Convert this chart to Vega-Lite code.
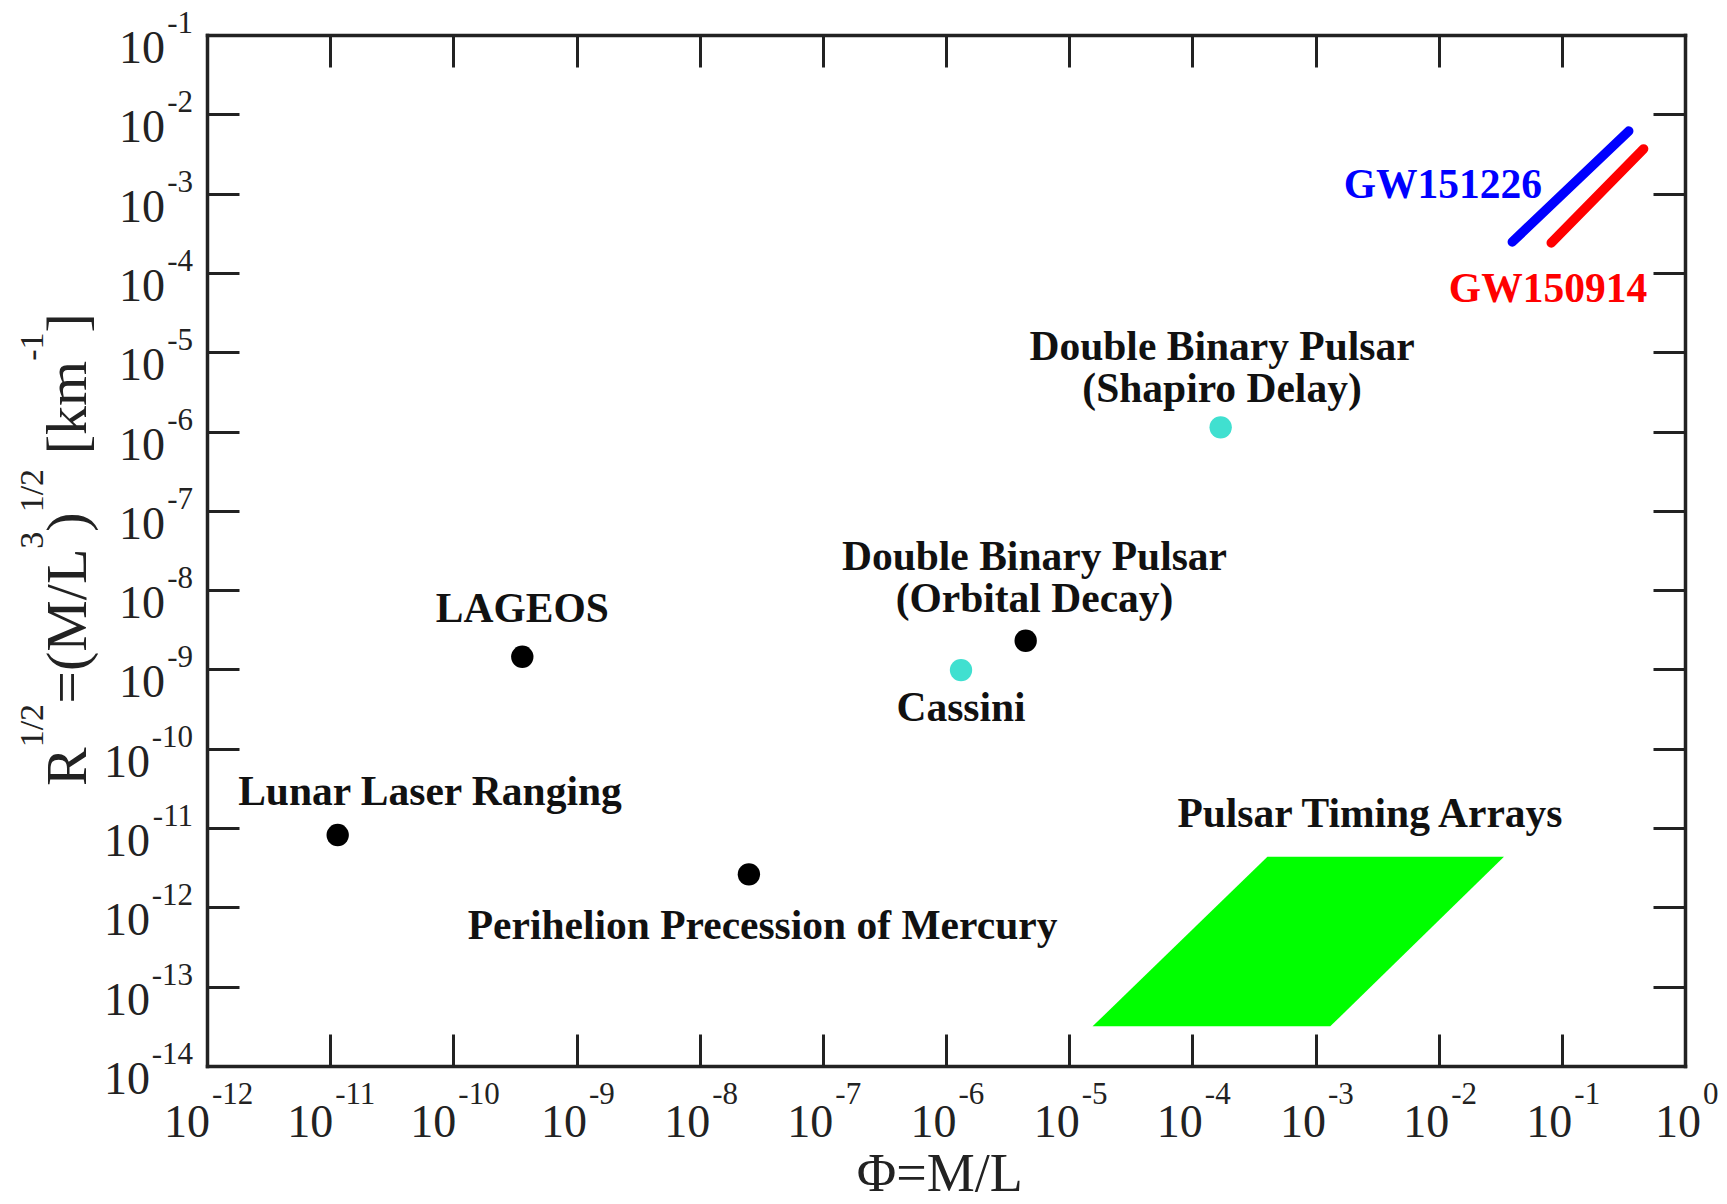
{
  "$schema": "https://vega.github.io/schema/vega-lite/v6.json",
  "width": 1478,
  "height": 1031,
  "autosize": {"type": "none"},
  "padding": {"left": 207, "top": 35, "right": 42, "bottom": 138},
  "background": "white",
  "config": {"view": {"stroke": null}},
  "datasets": {
    "pta": [
      {"y": 3.16e-14, "x": 1.549e-5, "x2": 1.318e-3},
      {"y": 4.365e-12, "x": 4.07e-4, "x2": 3.39e-2}
    ],
    "gw": [
      {"event": "GW151226", "x": 0.03963, "y": 2.46e-4},
      {"event": "GW151226", "x": 0.3491, "y": 6.14e-3},
      {"event": "GW150914", "x": 0.08204, "y": 2.388e-4},
      {"event": "GW150914", "x": 0.4613, "y": 3.664e-3}
    ],
    "points": [
      {"name": "Lunar Laser Ranging", "x": 1.151e-11, "y": 8.17e-12, "effect": "other"},
      {"name": "LAGEOS", "x": 3.63e-10, "y": 1.445e-9, "effect": "other"},
      {"name": "Perihelion Precession of Mercury", "x": 2.51e-8, "y": 2.61e-12, "effect": "other"},
      {"name": "Cassini", "x": 1.324e-6, "y": 9.82e-10, "effect": "Shapiro delay"},
      {"name": "Double Binary Pulsar (Orbital Decay)", "x": 4.436e-6, "y": 2.30e-9, "effect": "other"},
      {"name": "Double Binary Pulsar (Shapiro Delay)", "x": 1.698e-4, "y": 1.13e-6, "effect": "Shapiro delay"}
    ],
    "labels": [
      {"text": "LAGEOS", "x": 3.63e-10, "y": 3.963e-9, "series": "test"},
      {"text": "Lunar Laser Ranging", "x": 6.46e-11, "y": 1.95e-11, "series": "test"},
      {"text": "Perihelion Precession of Mercury", "x": 3.24e-8, "y": 3.98e-13, "series": "test"},
      {"text": "Cassini", "x": 1.324e-6, "y": 2.234e-10, "series": "test"},
      {"text": "Double Binary Pulsar\n(Orbital Decay)", "x": 5.23e-6, "y": 1.79e-8, "series": "test"},
      {"text": "Double Binary Pulsar\n(Shapiro Delay)", "x": 1.742e-4, "y": 7.98e-6, "series": "test"},
      {"text": "Pulsar Timing Arrays", "x": 2.767e-3, "y": 1.03e-11, "series": "test"},
      {"text": "GW151226", "x": 1.084e-2, "y": 8.79e-4, "series": "GW151226"},
      {"text": "GW150914", "x": 7.72e-2, "y": 4.30e-5, "series": "GW150914"}
    ],
    "xt": [
      {"v": 1e-12, "e": "-12"}, {"v": 1e-11, "e": "-11"}, {"v": 1e-10, "e": "-10"},
      {"v": 1e-9, "e": "-9"}, {"v": 1e-8, "e": "-8"}, {"v": 1e-7, "e": "-7"},
      {"v": 1e-6, "e": "-6"}, {"v": 1e-5, "e": "-5"}, {"v": 1e-4, "e": "-4"},
      {"v": 0.001, "e": "-3"}, {"v": 0.01, "e": "-2"}, {"v": 0.1, "e": "-1"}, {"v": 1, "e": "0"}
    ],
    "yt": [
      {"v": 0.1, "e": "-1"}, {"v": 0.01, "e": "-2"}, {"v": 0.001, "e": "-3"},
      {"v": 1e-4, "e": "-4"}, {"v": 1e-5, "e": "-5"}, {"v": 1e-6, "e": "-6"},
      {"v": 1e-7, "e": "-7"}, {"v": 1e-8, "e": "-8"}, {"v": 1e-9, "e": "-9"},
      {"v": 1e-10, "e": "-10"}, {"v": 1e-11, "e": "-11"}, {"v": 1e-12, "e": "-12"},
      {"v": 1e-13, "e": "-13"}, {"v": 1e-14, "e": "-14"}
    ]
  },
  "layer": [
    {
      "data": {"name": "pta"},
      "mark": {"type": "area", "orient": "horizontal", "color": "#00FF00", "opacity": 1},
      "encoding": {
        "y": {"field": "y", "type": "quantitative", "scale": {"type": "log", "domain": [1e-14, 0.1], "nice": false},
          "axis": {"orient": "right", "values": [1e-13, 1e-12, 1e-11, 1e-10, 1e-9, 1e-8, 1e-7, 1e-6, 1e-5, 1e-4, 0.001, 0.01], "labels": false, "title": null, "grid": false, "tickSize": -32, "tickWidth": 3, "tickColor": "#222222", "domainColor": "#222222", "domainWidth": 3.5, "domainCap": "square"}},
        "x": {"field": "x", "type": "quantitative", "scale": {"type": "log", "domain": [1e-12, 1], "nice": false},
          "axis": {"orient": "top", "values": [1e-11, 1e-10, 1e-9, 1e-8, 1e-7, 1e-6, 1e-5, 1e-4, 0.001, 0.01, 0.1], "labels": false, "title": null, "grid": false, "tickSize": -32, "tickWidth": 3, "tickColor": "#222222", "domainColor": "#222222", "domainWidth": 3.5, "domainCap": "square"}},
        "x2": {"field": "x2"}
      }
    },
    {
      "data": {"name": "gw"},
      "mark": {"type": "line", "strokeWidth": 9.5, "strokeCap": "round"},
      "encoding": {
        "x": {"field": "x", "type": "quantitative", "scale": {"type": "log", "domain": [1e-12, 1], "nice": false}, "axis": null},
        "y": {"field": "y", "type": "quantitative", "scale": {"type": "log", "domain": [1e-14, 0.1], "nice": false}, "axis": null},
        "color": {"field": "event", "type": "nominal", "scale": {"domain": ["GW151226", "GW150914"], "range": ["#0000FF", "#FF0000"]}, "legend": null},
        "detail": {"field": "event"}
      }
    },
    {
      "data": {"name": "points"},
      "mark": {"type": "circle", "size": 500, "opacity": 1},
      "encoding": {
        "x": {"field": "x", "type": "quantitative", "scale": {"type": "log", "domain": [1e-12, 1], "nice": false},
          "axis": {"orient": "bottom", "values": [1e-11, 1e-10, 1e-9, 1e-8, 1e-7, 1e-6, 1e-5, 1e-4, 0.001, 0.01, 0.1], "labels": false, "title": null, "grid": false, "tickSize": -32, "tickWidth": 3, "tickColor": "#222222", "domainColor": "#222222", "domainWidth": 3.5, "domainCap": "square"}},
        "y": {"field": "y", "type": "quantitative", "scale": {"type": "log", "domain": [1e-14, 0.1], "nice": false},
          "axis": {"orient": "left", "values": [1e-13, 1e-12, 1e-11, 1e-10, 1e-9, 1e-8, 1e-7, 1e-6, 1e-5, 1e-4, 0.001, 0.01], "labels": false, "title": null, "grid": false, "tickSize": -32, "tickWidth": 3, "tickColor": "#222222", "domainColor": "#222222", "domainWidth": 3.5, "domainCap": "square"}},
        "color": {"field": "effect", "type": "nominal", "scale": {"domain": ["other", "Shapiro delay"], "range": ["#000000", "#40E0D0"]}, "legend": null}
      }
    },
    {
      "data": {"name": "labels"},
      "mark": {"type": "text", "font": "Liberation Serif", "fontWeight": "bold", "fontSize": 41.5, "align": "center", "baseline": "alphabetic", "lineBreak": "\n", "lineHeight": 42},
      "encoding": {
        "x": {"field": "x", "type": "quantitative", "scale": {"type": "log", "domain": [1e-12, 1], "nice": false}, "axis": null},
        "y": {"field": "y", "type": "quantitative", "scale": {"type": "log", "domain": [1e-14, 0.1], "nice": false}, "axis": null},
        "text": {"field": "text"},
        "color": {"field": "series", "type": "nominal", "scale": {"domain": ["test", "GW151226", "GW150914"], "range": ["#111111", "#0000FF", "#FF0000"]}, "legend": null}
      }
    },
    {
      "data": {"name": "xt"},
      "transform": [{"filter": "length(datum.e) == 1"}],
      "mark": {"type": "text", "font": "Liberation Serif", "fontSize": 46, "align": "right", "baseline": "alphabetic", "dx": 16, "dy": 71, "color": "#222222"},
      "encoding": {
        "x": {"field": "v", "type": "quantitative", "scale": {"type": "log", "domain": [1e-12, 1], "nice": false}, "axis": null},
        "y": {"datum": 1e-14, "type": "quantitative", "scale": {"type": "log", "domain": [1e-14, 0.1], "nice": false}, "axis": null},
        "text": {"value": "10"}
      }
    },
    {
      "data": {"name": "xt"},
      "transform": [{"filter": "length(datum.e) == 1"}],
      "mark": {"type": "text", "font": "Liberation Serif", "fontSize": 31, "align": "left", "baseline": "alphabetic", "dx": 18, "dy": 38, "color": "#222222"},
      "encoding": {
        "x": {"field": "v", "type": "quantitative", "scale": {"type": "log", "domain": [1e-12, 1], "nice": false}, "axis": null},
        "y": {"datum": 1e-14, "type": "quantitative", "scale": {"type": "log", "domain": [1e-14, 0.1], "nice": false}, "axis": null},
        "text": {"field": "e"}
      }
    },
    {
      "data": {"name": "xt"},
      "transform": [{"filter": "length(datum.e) == 2"}],
      "mark": {"type": "text", "font": "Liberation Serif", "fontSize": 46, "align": "right", "baseline": "alphabetic", "dx": 10.5, "dy": 71, "color": "#222222"},
      "encoding": {
        "x": {"field": "v", "type": "quantitative", "scale": {"type": "log", "domain": [1e-12, 1], "nice": false}, "axis": null},
        "y": {"datum": 1e-14, "type": "quantitative", "scale": {"type": "log", "domain": [1e-14, 0.1], "nice": false}, "axis": null},
        "text": {"value": "10"}
      }
    },
    {
      "data": {"name": "xt"},
      "transform": [{"filter": "length(datum.e) == 2"}],
      "mark": {"type": "text", "font": "Liberation Serif", "fontSize": 31, "align": "left", "baseline": "alphabetic", "dx": 12.5, "dy": 38, "color": "#222222"},
      "encoding": {
        "x": {"field": "v", "type": "quantitative", "scale": {"type": "log", "domain": [1e-12, 1], "nice": false}, "axis": null},
        "y": {"datum": 1e-14, "type": "quantitative", "scale": {"type": "log", "domain": [1e-14, 0.1], "nice": false}, "axis": null},
        "text": {"field": "e"}
      }
    },
    {
      "data": {"name": "xt"},
      "transform": [{"filter": "length(datum.e) == 3"}],
      "mark": {"type": "text", "font": "Liberation Serif", "fontSize": 46, "align": "right", "baseline": "alphabetic", "dx": 3, "dy": 71, "color": "#222222"},
      "encoding": {
        "x": {"field": "v", "type": "quantitative", "scale": {"type": "log", "domain": [1e-12, 1], "nice": false}, "axis": null},
        "y": {"datum": 1e-14, "type": "quantitative", "scale": {"type": "log", "domain": [1e-14, 0.1], "nice": false}, "axis": null},
        "text": {"value": "10"}
      }
    },
    {
      "data": {"name": "xt"},
      "transform": [{"filter": "length(datum.e) == 3"}],
      "mark": {"type": "text", "font": "Liberation Serif", "fontSize": 31, "align": "left", "baseline": "alphabetic", "dx": 5, "dy": 38, "color": "#222222"},
      "encoding": {
        "x": {"field": "v", "type": "quantitative", "scale": {"type": "log", "domain": [1e-12, 1], "nice": false}, "axis": null},
        "y": {"datum": 1e-14, "type": "quantitative", "scale": {"type": "log", "domain": [1e-14, 0.1], "nice": false}, "axis": null},
        "text": {"field": "e"}
      }
    },
    {
      "data": {"name": "yt"},
      "transform": [{"filter": "length(datum.e) == 2"}],
      "mark": {"type": "text", "font": "Liberation Serif", "fontSize": 46, "align": "right", "baseline": "alphabetic", "dx": -42, "dy": 28, "color": "#222222"},
      "encoding": {
        "x": {"datum": 1e-12, "type": "quantitative", "scale": {"type": "log", "domain": [1e-12, 1], "nice": false}, "axis": null},
        "y": {"field": "v", "type": "quantitative", "scale": {"type": "log", "domain": [1e-14, 0.1], "nice": false}, "axis": null},
        "text": {"value": "10"}
      }
    },
    {
      "data": {"name": "yt"},
      "transform": [{"filter": "length(datum.e) == 3"}],
      "mark": {"type": "text", "font": "Liberation Serif", "fontSize": 46, "align": "right", "baseline": "alphabetic", "dx": -57, "dy": 28, "color": "#222222"},
      "encoding": {
        "x": {"datum": 1e-12, "type": "quantitative", "scale": {"type": "log", "domain": [1e-12, 1], "nice": false}, "axis": null},
        "y": {"field": "v", "type": "quantitative", "scale": {"type": "log", "domain": [1e-14, 0.1], "nice": false}, "axis": null},
        "text": {"value": "10"}
      }
    },
    {
      "data": {"name": "yt"},
      "mark": {"type": "text", "font": "Liberation Serif", "fontSize": 31, "align": "right", "baseline": "alphabetic", "dx": -14, "dy": -2, "color": "#222222"},
      "encoding": {
        "x": {"datum": 1e-12, "type": "quantitative", "scale": {"type": "log", "domain": [1e-12, 1], "nice": false}, "axis": null},
        "y": {"field": "v", "type": "quantitative", "scale": {"type": "log", "domain": [1e-14, 0.1], "nice": false}, "axis": null},
        "text": {"field": "e"}
      }
    },
    {
      "data": {"values": [{"t": "Φ=M/L"}]},
      "mark": {"type": "text", "font": "Liberation Serif", "fontSize": 54, "align": "center", "baseline": "alphabetic", "dy": 125, "color": "#222222"},
      "encoding": {
        "x": {"datum": 8.9e-7, "type": "quantitative", "scale": {"type": "log", "domain": [1e-12, 1], "nice": false}, "axis": null},
        "y": {"datum": 1e-14, "type": "quantitative", "scale": {"type": "log", "domain": [1e-14, 0.1], "nice": false}, "axis": null},
        "text": {"field": "t"}
      }
    },
    {
      "data": {"values": [{"t": "R"}]},
      "mark": {"type": "text", "font": "Liberation Serif", "fontSize": 58, "angle": 270, "align": "left", "baseline": "alphabetic", "dx": 0, "dy": -121, "color": "#222222"},
      "encoding": {
        "x": {"datum": 1e-12, "type": "quantitative", "scale": {"type": "log", "domain": [1e-12, 1], "nice": false}, "axis": null},
        "y": {"datum": 3.39e-11, "type": "quantitative", "scale": {"type": "log", "domain": [1e-14, 0.1], "nice": false}, "axis": null},
        "text": {"field": "t"}
      }
    },
    {
      "data": {"values": [{"t": "1/2"}]},
      "mark": {"type": "text", "font": "Liberation Serif", "fontSize": 34, "angle": 270, "align": "left", "baseline": "alphabetic", "dx": 38.7, "dy": -164, "color": "#222222"},
      "encoding": {
        "x": {"datum": 1e-12, "type": "quantitative", "scale": {"type": "log", "domain": [1e-12, 1], "nice": false}, "axis": null},
        "y": {"datum": 3.39e-11, "type": "quantitative", "scale": {"type": "log", "domain": [1e-14, 0.1], "nice": false}, "axis": null},
        "text": {"field": "t"}
      }
    },
    {
      "data": {"values": [{"t": "=(M/L"}]},
      "mark": {"type": "text", "font": "Liberation Serif", "fontSize": 58, "angle": 270, "align": "left", "baseline": "alphabetic", "dx": 82.2, "dy": -121, "color": "#222222"},
      "encoding": {
        "x": {"datum": 1e-12, "type": "quantitative", "scale": {"type": "log", "domain": [1e-12, 1], "nice": false}, "axis": null},
        "y": {"datum": 3.39e-11, "type": "quantitative", "scale": {"type": "log", "domain": [1e-14, 0.1], "nice": false}, "axis": null},
        "text": {"field": "t"}
      }
    },
    {
      "data": {"values": [{"t": "3"}]},
      "mark": {"type": "text", "font": "Liberation Serif", "fontSize": 34, "angle": 270, "align": "left", "baseline": "alphabetic", "dx": 237.4, "dy": -164, "color": "#222222"},
      "encoding": {
        "x": {"datum": 1e-12, "type": "quantitative", "scale": {"type": "log", "domain": [1e-12, 1], "nice": false}, "axis": null},
        "y": {"datum": 3.39e-11, "type": "quantitative", "scale": {"type": "log", "domain": [1e-14, 0.1], "nice": false}, "axis": null},
        "text": {"field": "t"}
      }
    },
    {
      "data": {"values": [{"t": ")"}]},
      "mark": {"type": "text", "font": "Liberation Serif", "fontSize": 58, "angle": 270, "align": "left", "baseline": "alphabetic", "dx": 254.4, "dy": -121, "color": "#222222"},
      "encoding": {
        "x": {"datum": 1e-12, "type": "quantitative", "scale": {"type": "log", "domain": [1e-12, 1], "nice": false}, "axis": null},
        "y": {"datum": 3.39e-11, "type": "quantitative", "scale": {"type": "log", "domain": [1e-14, 0.1], "nice": false}, "axis": null},
        "text": {"field": "t"}
      }
    },
    {
      "data": {"values": [{"t": "1/2"}]},
      "mark": {"type": "text", "font": "Liberation Serif", "fontSize": 34, "angle": 270, "align": "left", "baseline": "alphabetic", "dx": 273.7, "dy": -164, "color": "#222222"},
      "encoding": {
        "x": {"datum": 1e-12, "type": "quantitative", "scale": {"type": "log", "domain": [1e-12, 1], "nice": false}, "axis": null},
        "y": {"datum": 3.39e-11, "type": "quantitative", "scale": {"type": "log", "domain": [1e-14, 0.1], "nice": false}, "axis": null},
        "text": {"field": "t"}
      }
    },
    {
      "data": {"values": [{"t": "[km"}]},
      "mark": {"type": "text", "font": "Liberation Serif", "fontSize": 58, "angle": 270, "align": "left", "baseline": "alphabetic", "dx": 331.7, "dy": -121, "color": "#222222"},
      "encoding": {
        "x": {"datum": 1e-12, "type": "quantitative", "scale": {"type": "log", "domain": [1e-12, 1], "nice": false}, "axis": null},
        "y": {"datum": 3.39e-11, "type": "quantitative", "scale": {"type": "log", "domain": [1e-14, 0.1], "nice": false}, "axis": null},
        "text": {"field": "t"}
      }
    },
    {
      "data": {"values": [{"t": "-1"}]},
      "mark": {"type": "text", "font": "Liberation Serif", "fontSize": 34, "angle": 270, "align": "left", "baseline": "alphabetic", "dx": 425.2, "dy": -164, "color": "#222222"},
      "encoding": {
        "x": {"datum": 1e-12, "type": "quantitative", "scale": {"type": "log", "domain": [1e-12, 1], "nice": false}, "axis": null},
        "y": {"datum": 3.39e-11, "type": "quantitative", "scale": {"type": "log", "domain": [1e-14, 0.1], "nice": false}, "axis": null},
        "text": {"field": "t"}
      }
    },
    {
      "data": {"values": [{"t": "]"}]},
      "mark": {"type": "text", "font": "Liberation Serif", "fontSize": 58, "angle": 270, "align": "left", "baseline": "alphabetic", "dx": 453.5, "dy": -121, "color": "#222222"},
      "encoding": {
        "x": {"datum": 1e-12, "type": "quantitative", "scale": {"type": "log", "domain": [1e-12, 1], "nice": false}, "axis": null},
        "y": {"datum": 3.39e-11, "type": "quantitative", "scale": {"type": "log", "domain": [1e-14, 0.1], "nice": false}, "axis": null},
        "text": {"field": "t"}
      }
    }
  ],
  "resolve": {"axis": {"x": "independent", "y": "independent"}, "scale": {"color": "independent"}}
}
